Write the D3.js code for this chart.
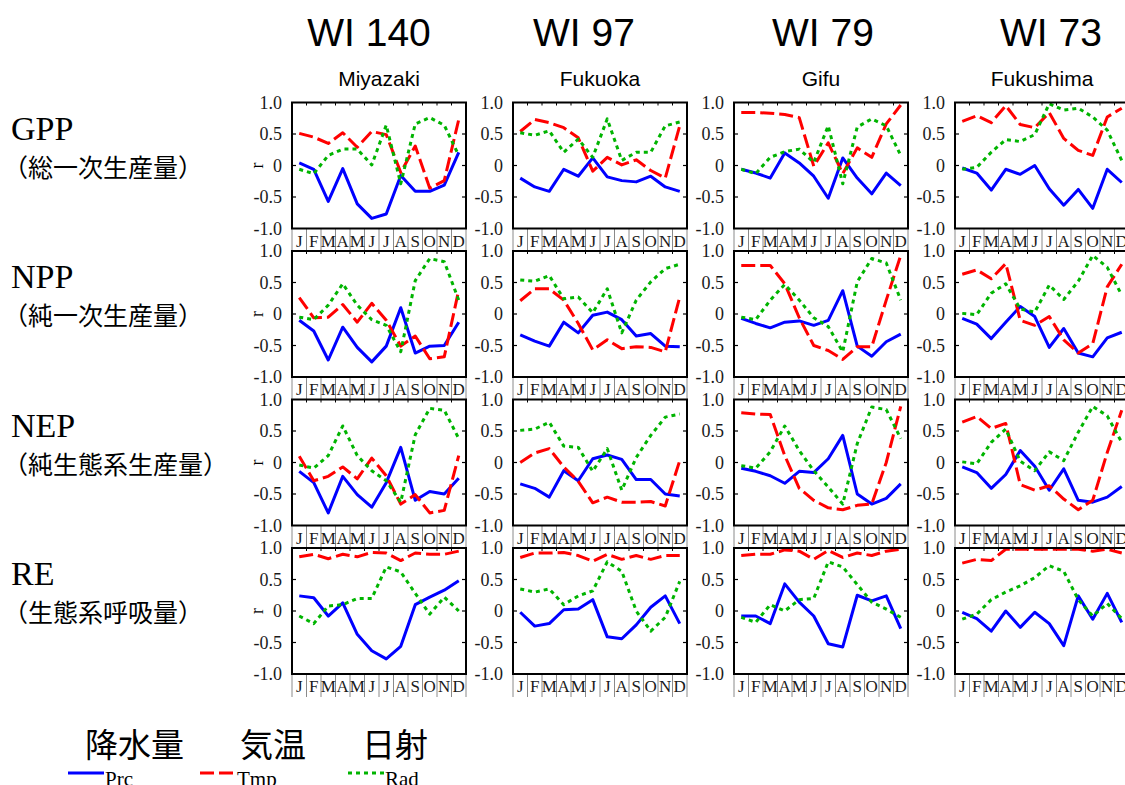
<!DOCTYPE html>
<html>
<head>
<meta charset="utf-8">
<script src="https://cdn.jsdelivr.net/npm/d3@7"></script>
<style>
  body { margin: 0; background: #fff; }
  svg { display: block; }
</style>
</head>
<body>
<svg id="chart" width="1125" height="785"></svg>
<script>
// ---- data ----------------------------------------------------------------
const months = ["J", "F", "M", "A", "M", "J", "J", "A", "S", "O", "N", "D"];
const sites = ["Miyazaki", "Fukuoka", "Gifu", "Fukushima"];
const wiLabels = ["WI 140", "WI 97", "WI 79", "WI 73"];
const fluxes = ["GPP", "NPP", "NEP", "RE"];
const fluxNames = ["（総一次生産量）", "（純一次生産量）", "（純生態系生産量）", "（生態系呼吸量）"];
const yTicks = [-1, -0.5, 0, 0.5, 1];
const yTickLabels = ["-1.0", "-0.5", "0", "0.5", "1.0"];
const legendTitles = ["降水量", "気温", "日射"];
const legendKeys = ["Prc", "Tmp", "Rad"];

// correlation r by month, one row per site (Miyazaki, Fukuoka, Gifu, Fukushima)
const prcGPP = [
  [0.04, -0.06, -0.57, -0.05, -0.61, -0.84, -0.77, -0.16, -0.41, -0.41, -0.31, 0.21],
  [-0.20, -0.34, -0.41, -0.06, -0.17, 0.12, -0.18, -0.24, -0.26, -0.17, -0.34, -0.41],
  [-0.06, -0.12, -0.20, 0.20, 0.04, -0.17, -0.52, 0.12, -0.20, -0.45, -0.12, -0.32],
  [-0.04, -0.12, -0.39, -0.06, -0.14, 0.00, -0.37, -0.63, -0.38, -0.68, -0.06, -0.27]
];
const tmpGPP = [
  [0.51, 0.45, 0.35, 0.52, 0.29, 0.54, 0.49, -0.11, 0.31, -0.36, -0.24, 0.73],
  [0.54, 0.73, 0.68, 0.60, 0.44, -0.09, 0.13, 0.01, 0.09, -0.08, -0.20, 0.63],
  [0.84, 0.84, 0.83, 0.81, 0.76, -0.01, 0.36, -0.13, 0.28, 0.13, 0.66, 0.96],
  [0.70, 0.79, 0.68, 0.95, 0.65, 0.60, 0.84, 0.43, 0.24, 0.16, 0.77, 0.91]
];
const radGPP = [
  [-0.06, -0.13, 0.16, 0.26, 0.26, 0.01, 0.64, -0.29, 0.66, 0.76, 0.64, 0.16],
  [0.52, 0.48, 0.55, 0.21, 0.42, 0.13, 0.74, 0.08, 0.21, 0.21, 0.63, 0.69],
  [-0.06, -0.13, 0.13, 0.22, 0.26, 0.05, 0.63, -0.29, 0.61, 0.74, 0.63, 0.16],
  [-0.06, -0.03, 0.21, 0.41, 0.38, 0.49, 0.98, 0.88, 0.91, 0.77, 0.56, 0.08]
];

const prcNPP = [
  [-0.10, -0.27, -0.73, -0.21, -0.53, -0.76, -0.51, 0.10, -0.62, -0.51, -0.50, -0.13],
  [-0.33, -0.43, -0.51, -0.13, -0.30, -0.02, 0.03, -0.09, -0.35, -0.31, -0.51, -0.52],
  [-0.07, -0.15, -0.22, -0.13, -0.11, -0.18, -0.10, 0.37, -0.51, -0.67, -0.44, -0.32],
  [-0.07, -0.16, -0.39, -0.13, 0.12, -0.04, -0.53, -0.23, -0.62, -0.68, -0.38, -0.29]
];
const tmpNPP = [
  [0.26, -0.06, -0.05, 0.15, -0.13, 0.17, -0.10, -0.51, -0.35, -0.71, -0.68, 0.38],
  [0.21, 0.40, 0.40, 0.22, -0.15, -0.57, -0.41, -0.55, -0.52, -0.53, -0.60, 0.27],
  [0.77, 0.77, 0.77, 0.48, -0.06, -0.50, -0.58, -0.72, -0.52, -0.52, 0.22, 0.93],
  [0.63, 0.70, 0.56, 0.80, -0.10, -0.18, -0.04, -0.41, -0.62, -0.47, 0.43, 0.79]
];
const radNPP = [
  [-0.05, -0.09, 0.14, 0.48, 0.14, -0.09, -0.18, -0.60, 0.53, 0.88, 0.83, 0.22],
  [0.54, 0.52, 0.61, 0.24, 0.27, 0.02, 0.40, -0.30, 0.22, 0.51, 0.72, 0.79],
  [-0.05, -0.09, 0.22, 0.47, 0.22, -0.06, -0.20, -0.60, 0.51, 0.88, 0.81, 0.22],
  [0.01, -0.01, 0.33, 0.48, 0.08, 0.03, 0.46, 0.23, 0.52, 0.93, 0.74, 0.30]
];

const prcNEP = [
  [-0.14, -0.32, -0.80, -0.22, -0.51, -0.71, -0.32, 0.24, -0.60, -0.46, -0.50, -0.25],
  [-0.34, -0.41, -0.55, -0.13, -0.29, 0.06, 0.12, 0.05, -0.27, -0.27, -0.50, -0.53],
  [-0.09, -0.14, -0.21, -0.33, -0.14, -0.16, 0.06, 0.43, -0.50, -0.66, -0.57, -0.34],
  [-0.07, -0.16, -0.41, -0.19, 0.19, -0.06, -0.44, -0.10, -0.60, -0.63, -0.55, -0.38]
];
const tmpNEP = [
  [0.10, -0.29, -0.22, -0.07, -0.26, 0.07, -0.21, -0.66, -0.51, -0.80, -0.76, 0.11],
  [0.00, 0.15, 0.22, -0.07, -0.30, -0.64, -0.55, -0.63, -0.63, -0.62, -0.69, 0.03],
  [0.79, 0.77, 0.76, 0.11, -0.41, -0.60, -0.72, -0.75, -0.68, -0.66, 0.00, 0.89],
  [0.64, 0.73, 0.54, 0.62, -0.35, -0.44, -0.37, -0.58, -0.75, -0.60, 0.16, 0.83]
];
const radNEP = [
  [-0.04, -0.09, 0.11, 0.58, 0.11, -0.13, -0.29, -0.63, 0.44, 0.86, 0.83, 0.38],
  [0.51, 0.53, 0.64, 0.26, 0.24, -0.14, 0.22, -0.44, 0.08, 0.43, 0.72, 0.77],
  [-0.05, -0.09, 0.17, 0.58, 0.19, -0.13, -0.39, -0.66, 0.30, 0.88, 0.84, 0.38],
  [0.01, -0.02, 0.32, 0.53, 0.02, -0.13, 0.17, 0.03, 0.48, 0.89, 0.74, 0.32]
];

const prcRE = [
  [0.24, 0.21, -0.08, 0.13, -0.37, -0.63, -0.76, -0.56, 0.10, 0.22, 0.33, 0.48],
  [-0.02, -0.24, -0.20, 0.02, 0.03, 0.18, -0.41, -0.44, -0.22, 0.06, 0.24, -0.20],
  [-0.08, -0.08, -0.20, 0.43, 0.14, -0.08, -0.52, -0.57, 0.25, 0.16, 0.24, -0.28],
  [-0.02, -0.12, -0.32, 0.00, -0.26, -0.02, -0.20, -0.55, 0.24, -0.13, 0.28, -0.18]
];
const tmpRE = [
  [0.86, 0.90, 0.83, 0.90, 0.86, 0.93, 0.92, 0.80, 0.92, 0.90, 0.90, 0.95],
  [0.85, 0.92, 0.92, 0.93, 0.88, 0.79, 0.90, 0.82, 0.88, 0.82, 0.88, 0.88],
  [0.88, 0.90, 0.90, 0.97, 0.95, 0.82, 0.96, 0.85, 0.92, 0.88, 0.95, 0.98],
  [0.76, 0.82, 0.80, 0.98, 0.98, 0.98, 0.98, 0.98, 0.98, 0.95, 0.98, 0.92]
];
const radRE = [
  [-0.08, -0.20, 0.08, 0.10, 0.20, 0.20, 0.70, 0.62, 0.28, -0.05, 0.22, 0.00],
  [0.35, 0.30, 0.35, 0.10, 0.24, 0.32, 0.78, 0.63, 0.00, -0.32, -0.10, 0.47],
  [-0.10, -0.18, 0.10, 0.00, 0.18, 0.20, 0.78, 0.70, 0.42, 0.14, 0.03, -0.10],
  [-0.13, -0.05, 0.18, 0.30, 0.40, 0.53, 0.72, 0.63, 0.18, -0.08, 0.12, -0.12]
];

// ---- layout & style ------------------------------------------------------
const series = {
  GPP: [prcGPP, tmpGPP, radGPP],
  NPP: [prcNPP, tmpNPP, radNPP],
  NEP: [prcNEP, tmpNEP, radNEP],
  RE:  [prcRE, tmpRE, radRE]
};
const lineColors = ["#0000ff", "#ff0000", "#00b400"];
const lineDashes = [null, "14,5", "4,4"];

const panelW = 174, panelH = 126, stripH = 23;
const colX = d3.scaleLinear().domain([0, 1]).range([292, 513]);   // column step
const rowY = d3.scaleLinear().domain([0, 1]).range([102.5, 251]); // row step
const titleX = [369, 584, 823, 1051];

const serif = "'Liberation Serif', 'Times New Roman', serif";
const sans = "'Liberation Sans', Arial, sans-serif";
const cjk = "'Noto Sans CJK JP', sans-serif";

const svg = d3.select("#chart");

const x = d3.scaleBand().domain(d3.range(12)).range([0, panelW]);
const y = d3.scaleLinear().domain([-1, 1]).range([panelH, 0]);
const line = d3.line()
  .x((d, i) => x(i) + x.bandwidth() / 2)
  .y(d => y(d));

// column headers
sites.forEach((s, c) => {
  svg.append("text")
    .attr("x", titleX[c]).attr("y", 46)
    .attr("text-anchor", "middle")
    .style("font-family", sans).style("font-size", "39px")
    .text(wiLabels[c]);
  svg.append("text")
    .attr("x", colX(c) + panelW / 2).attr("y", 86)
    .attr("text-anchor", "middle")
    .style("font-family", sans).style("font-size", "21px")
    .text(s);
});

// row labels
fluxes.forEach((f, r) => {
  const top = rowY(r);
  svg.append("text")
    .attr("x", 11).attr("y", top + 37)
    .style("font-family", serif).style("font-size", "34px")
    .text(f);
  svg.append("text")
    .attr("x", 3).attr("y", top + 74)
    .style("font-family", cjk).style("font-size", "25px")
    .text(fluxNames[r]);
});

// panels
fluxes.forEach((f, r) => {
  sites.forEach((s, c) => {
    const g = svg.append("g")
      .attr("transform", `translate(${colX(c)},${rowY(r)})`);

    // month strip under the plot
    const strip = g.append("g").attr("transform", `translate(0,${panelH})`);
    strip.selectAll("line.cell")
      .data(d3.range(13))
      .join("line")
      .attr("class", "cell")
      .attr("x1", i => i < 12 ? x(i) : panelW)
      .attr("x2", i => i < 12 ? x(i) : panelW)
      .attr("y1", 0).attr("y2", stripH)
      .attr("stroke", "#8a8a8a").attr("stroke-width", 1);
    strip.selectAll("text")
      .data(months)
      .join("text")
      .attr("x", (d, i) => x(i) + x.bandwidth() / 2)
      .attr("y", 18)
      .attr("text-anchor", "middle")
      .style("font-family", serif).style("font-size", "17px")
      .style("fill", "#1a1a1a")
      .text(d => d);

    // y tick labels
    g.selectAll("text.ylab")
      .data(yTicks)
      .join("text")
      .attr("class", "ylab")
      .attr("x", -10)
      .attr("y", d => y(d))
      .attr("dy", "0.36em")
      .attr("text-anchor", "end")
      .style("font-family", serif).style("font-size", "18px")
      .style("fill", "#1a1a1a")
      .text((d, i) => yTickLabels[i]);

    // inner ticks on both sides and along the top
    const inner = yTicks.filter(v => Math.abs(v) < 1);
    g.selectAll("line.yl").data(inner).join("line").attr("class", "yl")
      .attr("x1", 0).attr("x2", 4).attr("y1", d => y(d)).attr("y2", d => y(d))
      .attr("stroke", "#000").attr("stroke-width", 1.2);
    g.selectAll("line.yr").data(inner).join("line").attr("class", "yr")
      .attr("x1", panelW - 4).attr("x2", panelW).attr("y1", d => y(d)).attr("y2", d => y(d))
      .attr("stroke", "#000").attr("stroke-width", 1.2);
    g.selectAll("line.xt").data(d3.range(1, 12)).join("line").attr("class", "xt")
      .attr("x1", i => x(i)).attr("x2", i => x(i)).attr("y1", 0).attr("y2", 3)
      .attr("stroke", "#000").attr("stroke-width", 1);

    if (c === 0) {
      g.append("text")
        .attr("transform", `translate(-34,${y(0)}) rotate(-90)`)
        .attr("text-anchor", "middle")
        .attr("dy", "0.3em")
        .style("font-family", serif).style("font-size", "18px")
        .text("r");
    }

    // series lines: precipitation, temperature, radiation
    series[f].forEach((arr, k) => {
      g.append("path")
        .datum(arr[c])
        .attr("d", line)
        .attr("fill", "none")
        .attr("stroke", lineColors[k])
        .attr("stroke-width", 3)
        .attr("stroke-linejoin", "round")
        .attr("stroke-dasharray", lineDashes[k]);
    });

    // plot frame
    g.append("rect")
      .attr("x", 0).attr("y", 0)
      .attr("width", panelW).attr("height", panelH)
      .attr("fill", "none")
      .attr("stroke", "#000").attr("stroke-width", 2);
  });
});

// legend
const legendX = [68, 200, 348];
const legendTitleX = [85, 240, 362];
legendKeys.forEach((k, i) => {
  svg.append("text")
    .attr("x", legendTitleX[i]).attr("y", 757)
    .style("font-family", cjk).style("font-size", "33px")
    .text(legendTitles[i]);
  svg.append("line")
    .attr("x1", legendX[i]).attr("x2", legendX[i] + 36)
    .attr("y1", 773).attr("y2", 773)
    .attr("stroke", lineColors[i]).attr("stroke-width", 3)
    .attr("stroke-dasharray", lineDashes[i]);
  svg.append("text")
    .attr("x", legendX[i] + 37).attr("y", 786)
    .style("font-family", serif).style("font-size", "21px")
    .text(k);
});
</script>
</body>
</html>
